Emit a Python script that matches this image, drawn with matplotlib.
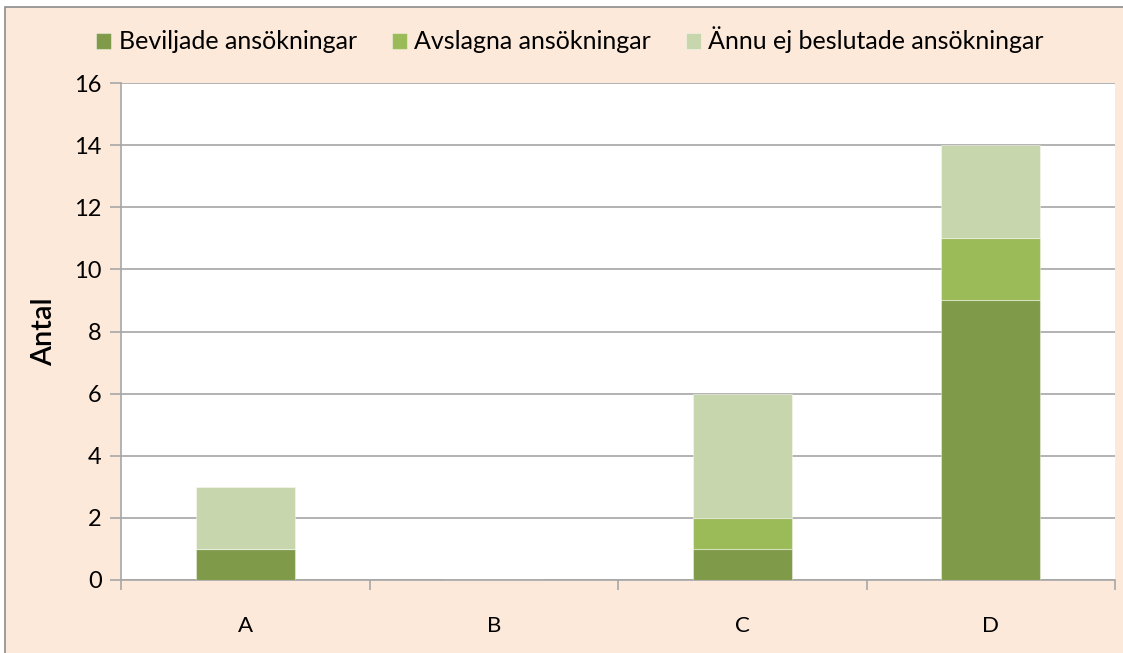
import matplotlib
matplotlib.use("Agg")
import matplotlib.pyplot as plt
from matplotlib.patches import Rectangle
import numpy as np

categories = ["A", "B", "C", "D"]
beviljade = [1, 0, 1, 9]
avslagna = [0, 0, 1, 2]
ej_beslutade = [2, 0, 4, 3]
series_names = ["Beviljade ansökningar", "Avslagna ansökningar", "Ännu ej beslutade ansökningar"]
colors = ["#7F9A48", "#9BBB59", "#C7D6AD"]
yticks = [0, 2, 4, 6, 8, 10, 12, 14, 16]

plt.rcParams['font.family'] = ['Lato', 'DejaVu Sans']

W, H = 1123, 653
fig = plt.figure(figsize=(W/100, H/100), dpi=100)
fig.patch.set_facecolor("white")
fig.patches.append(Rectangle((5/W, -0.2), 1.2, 1.2 - 7/H, transform=fig.transFigure,
                             facecolor="#FDE9D9", edgecolor="#8C8C8C", linewidth=1.2, zorder=-10))

ax = fig.add_axes([121/W, (H-580)/H, 994/W, 497/H])
ax.set_facecolor("white")
x = np.arange(len(categories))
bottom = np.zeros(len(categories))
handles = []
for vals, c, name in zip([beviljade, avslagna, ej_beslutade], colors, series_names):
    b = ax.bar(x, vals, 0.4, bottom=bottom, color=c, edgecolor=(1, 1, 1, 0.4), linewidth=0.8,
               label=name, zorder=3)
    handles.append(b)
    bottom += np.array(vals)

ax.set_xlim(-0.5, len(categories) - 0.5)
ax.set_ylim(0, 16)
ax.set_yticks(yticks)
ax.set_yticklabels([str(t) for t in yticks], fontsize=17)
ax.yaxis.grid(True, color="#A6A6A6", linewidth=1.2, zorder=0)
ax.set_axisbelow(True)
ax.set_xticks(x)
ax.set_xticklabels(categories, fontsize=16)
ax.tick_params(axis="x", length=0, pad=26)
ax.set_xticks(np.arange(-0.5, len(categories)), minor=True)
ax.tick_params(axis="x", which="minor", length=7, color="#A6A6A6", width=1.2)
ax.tick_params(axis="y", length=8, color="#A6A6A6", width=1.2, pad=6)
for s in ["top", "right"]:
    ax.spines[s].set_visible(False)
for s in ["left", "bottom"]:
    ax.spines[s].set_color("#A6A6A6")
    ax.spines[s].set_linewidth(1.2)
ax.set_ylabel("Antal", fontsize=21, fontweight="semibold", labelpad=12)

fig.legend(handles=handles, labels=series_names, loc="center", bbox_to_anchor=(570/W, 1 - 40/H),
           ncol=3, frameon=False, fontsize=18, handlelength=0.6, handleheight=0.6,
           handletextpad=0.3, columnspacing=1.4)

fig.savefig("out.png", dpi=100, facecolor=fig.get_facecolor())
